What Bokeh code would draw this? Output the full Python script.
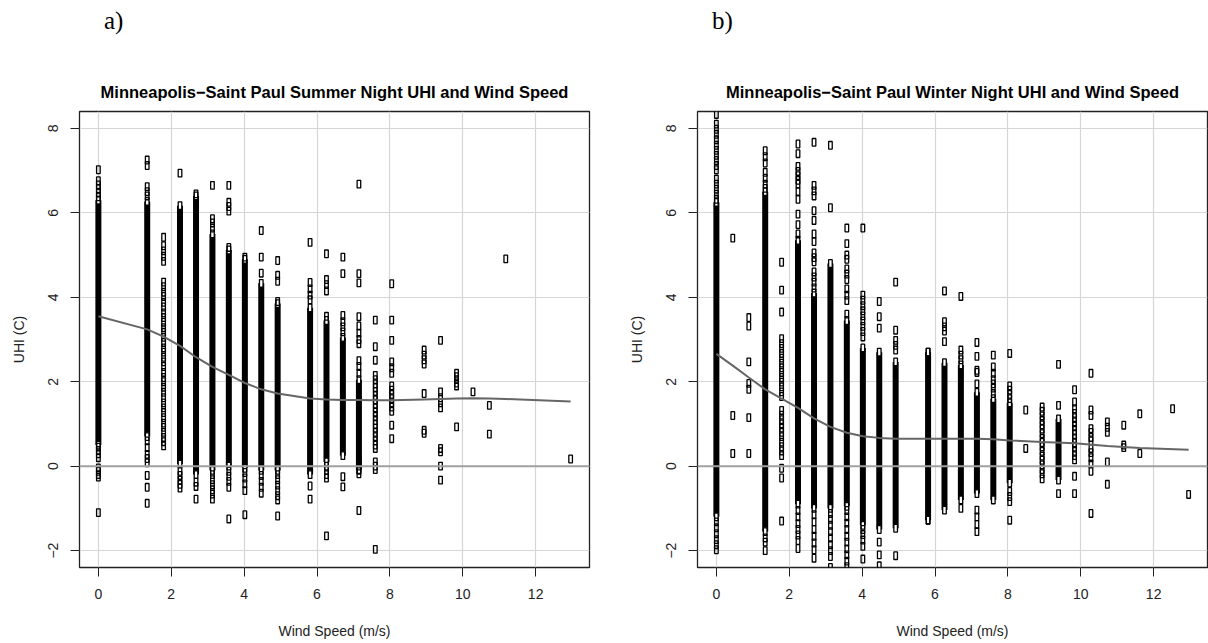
from bokeh.plotting import figure
from bokeh.layouts import row, column
from bokeh.models import Range1d, FixedTicker, Span, Title, Div
from bokeh.embed import file_html
from bokeh.resources import INLINE

# ---------------- data ----------------
x_ticks = [0, 2, 4, 6, 8, 10, 12]
y_ticks = [-2, 0, 2, 4, 6, 8]

summer_wind = [0.00, 1.34, 1.79, 2.24, 2.68, 3.13, 3.58, 4.02, 4.47, 4.92, 5.81, 6.26,
               6.71, 7.15, 7.60, 8.05, 8.94, 9.39, 9.83, 10.28, 10.73, 11.18, 12.96]
summer_uhi = [
    [7.02, 6.76, 6.66, 6.57, 6.47, 6.38, 0.45, 0.37, 0.29, 0.2, -0.04, -0.12, -0.2, -0.26, -1.1],
    [7.25, 7.12, 6.62, 6.5, 6.4, 0.6, 0.44, 0.28, 0.18, 0.08, -0.22, -0.5, -0.88],
    [5.42, 5.22, 5.1, 4.97, 4.85, 4.36, 4.25, 4.12, 4.02, 3.88, 3.77, 3.63, 3.52, 3.41, 3.28,
     3.17, 3.05, 2.93, 2.8, 2.7, 2.58, 2.47, 2.36, 2.22, 2.1, 2.0, 1.87, 1.75, 1.62, 1.5,
     1.38, 1.27, 1.15, 1.02, 0.92, 0.8, 0.68, 0.58, 0.48],
    [6.94, -0.12, -0.22, -0.33, -0.43, -0.52],
    [6.45, -0.38, -0.48, -0.78],
    [6.65, 5.86, 5.76, 5.64, -0.2, -0.32, -0.44, -0.56, -0.66, -0.78],
    [6.65, 6.25, 6.15, 6.04, 5.18, -0.12, -0.24, -0.36, -0.5, -1.25],
    [4.95, -0.15, -0.28, -0.42, -0.58, -1.15],
    [5.58, 4.95, 4.57, -0.22, -0.36, -0.5, -0.64],
    [4.87, 4.52, 4.38, 3.9, -0.2, -0.32, -0.45, -0.58, -0.7, -0.8, -1.18],
    [5.3, 4.35, 4.2, 4.05, 3.94, -0.47, -0.78],
    [5.03, 4.42, 4.3, 4.15, 3.55, 0.0, -0.1, -0.2, -0.28, -1.65],
    [4.95, 4.56, 3.57, 3.42, 3.3, 3.18, -0.25, -0.49],
    [6.68, 4.56, 4.34, 3.54, 3.32, 3.15, 3.0, 2.9, 2.5, 2.36, 2.2, 0.15, 0.05, -0.08, -0.18, -1.05],
    [3.46, 2.83, 2.51, 2.15, 2.05, 1.95, 1.86, 1.77, 1.67, 1.57, 1.47, 1.38, 1.28, 1.18, 1.08,
     0.99, 0.9, 0.8, 0.7, 0.6, 0.5, 0.42, 0.1, 0.0, -0.08, -1.97],
    [4.32, 3.46, 2.98, 2.47, 2.33, 2.2, 1.9, 1.8, 1.7, 1.6, 1.5, 1.4, 1.3, 0.97, 0.65],
    [2.75, 2.63, 2.52, 2.42, 1.72, 0.85, 0.78],
    [2.98, 1.76, 1.62, 1.5, 1.38, 0.42, 0.34, 0.0, -0.33],
    [2.2, 2.12, 2.05, 1.97, 1.9, 0.93],
    [1.76],
    [1.44, 0.76],
    [4.91],
    [0.17],
]
# wind speeds where observations are so dense that they merge into a solid column
summer_dense_wind = [0.00, 1.34, 2.24, 2.68, 3.13, 3.58, 4.02, 4.47, 4.92, 5.81, 6.26, 6.71, 7.15]
summer_dense_low = [0.5, 0.7, 0.05, -0.2, -0.1, 0.0, -0.05, -0.1, -0.1, -0.2, 0.1, 0.25, -0.1]
summer_dense_high = [6.3, 6.27, 6.17, 6.4, 5.5, 5.12, 4.9, 4.33, 3.85, 3.75, 3.45, 3.05, 2.05]

summer_smooth_wind = [0.00, 1.34, 1.79, 2.24, 2.68, 3.13, 3.58, 4.02, 4.47, 4.92, 5.81, 6.26,
                      6.71, 7.15, 7.60, 8.05, 8.94, 9.39, 9.83, 10.28, 10.73, 11.18, 12.96]
summer_smooth_uhi = [3.55, 3.24, 3.07, 2.85, 2.58, 2.35, 2.16, 1.97, 1.82, 1.72, 1.60, 1.58,
                     1.57, 1.57, 1.56, 1.56, 1.58, 1.59, 1.60, 1.61, 1.60, 1.59, 1.53]

winter_wind = [0.00, 0.45, 0.89, 1.34, 1.79, 2.24, 2.68, 3.13, 3.58, 4.02, 4.47, 4.92, 5.81,
               6.26, 6.71, 7.15, 7.60, 8.05, 8.49, 8.94, 9.39, 9.83, 10.28, 10.73, 11.18,
               11.62, 12.52, 12.96]
winter_uhi = [
    [8.33, 8.1, 7.98, 7.86, 7.73, 7.6, 7.48, 7.36, 7.24, 7.12, 7.02, 6.8, 6.68, 6.56, 6.44,
     6.32, -1.32, -1.46, -1.6, -1.74, -1.86, -1.98],
    [5.4, 1.2, 0.3],
    [3.52, 3.32, 2.47, 1.96, 1.82, 1.15, 0.3],
    [7.47, 7.33, 7.18, 6.96, 6.82, 6.68, 6.58, -1.7, -1.8, -2.0],
    [4.83, 4.17, 3.65, 3.02, 2.9, 2.79, 2.67, 2.56, 2.44, 2.33, 2.22, 2.1, 1.99, 1.88, 1.76,
     1.65, 1.32, 1.21, 1.1, 1.0, 0.9, 0.8, 0.7, 0.57, 0.46, 0.36, 0.25, -0.05, -0.28, -1.3],
    [7.63, 7.4, 7.1, 6.98, 6.88, 6.77, 6.68, 6.5, 6.32, 5.97, 5.72, 5.5, -1.05, -1.2, -1.36,
     -1.5, -1.63, -1.76, -1.95],
    [7.67, 6.65, 6.52, 6.4, 6.05, 5.82, 5.5, 5.32, 5.05, 4.94, 4.84, 4.6, 4.48, 4.36, 4.22,
     -1.15, -1.32, -1.5, -1.66, -1.82, -1.98, -2.18],
    [7.6, 6.12, -1.12, -1.26, -1.4, -1.55, -1.7, -1.86, -2.0, -2.14, -2.4],
    [5.64, 5.27, 5.0, 4.9, 4.67, 4.55, 4.42, 4.2, 4.05, 3.92, 3.6, -1.05, -1.2, -1.35, -1.5,
     -1.66, -1.8, -1.96, -2.1, -2.25, -2.38],
    [5.64, 4.05, 3.93, 3.8, 3.68, 3.56, 3.44, 3.31, 3.19, 3.06, -1.5, -1.62, -1.75, -1.9, -2.2],
    [3.9, 3.54, 3.27, -1.8, -2.1, -2.36],
    [4.36, 3.22, 2.98, 2.86, 2.75, -2.12],
    [2.7, -1.28],
    [4.15, 3.42, 3.3, 3.2, 2.95],
    [4.02, 2.75, 2.63, 2.52, 2.15, -1.0],
    [2.93, 2.6, 2.27, 2.22, 1.95, -1.04, -1.2, -1.38, -1.55],
    [2.63, 2.35, 2.2, 2.05, 1.95, 1.85, 1.72],
    [2.67, 1.9, 1.8, 1.7, 1.6, -0.6, -0.72, -0.84, -1.28],
    [1.33, 0.42],
    [1.4, 1.3, 1.19, 1.08, 0.98, 0.88, 0.77, 0.66, 0.56, 0.46, 0.35, 0.24, 0.14, 0.03, -0.08,
     -0.18, -0.3],
    [2.41, 1.44, -0.65],
    [1.81, 1.52, 1.36, 1.25, 1.15, 1.05, 0.95, 0.85, 0.75, 0.65, 0.55, 0.45, 0.35, 0.25,
     0.15, -0.24, -0.65],
    [2.2, 1.33, 1.2, 0.89, 0.8, 0.68, 0.6, 0.42, 0.32, 0.2, 0.05, -0.12, -1.12],
    [1.05, 0.92, 0.8, 0.1, -0.43],
    [0.97, 0.5, 0.44],
    [1.24, 0.3],
    [1.36],
    [-0.67],
]
winter_dense_wind = [0.00, 1.34, 2.24, 2.68, 3.13, 3.58, 4.02, 4.47, 4.92, 5.81, 6.26, 6.71,
                     7.15, 7.60, 8.05, 9.39]
winter_dense_low = [-1.2, -1.55, -0.9, -1.0, -1.0, -0.95, -1.4, -1.5, -1.47, -1.28, -1.04,
                    -0.8, -0.65, -0.8, -0.4, -0.33]
winter_dense_high = [6.25, 6.5, 5.35, 4.1, 4.8, 3.45, 2.8, 2.7, 2.47, 2.7, 2.45, 2.4, 1.75,
                     1.6, 1.5, 1.12]

winter_smooth_wind = [0.00, 0.45, 0.89, 1.34, 1.79, 2.24, 2.68, 3.13, 3.58, 4.02, 4.47, 4.92,
                      5.81, 6.26, 6.71, 7.15, 7.60, 8.05, 8.94, 9.83, 10.73, 11.62, 12.96]
winter_smooth_uhi = [2.66, 2.38, 2.1, 1.82, 1.6, 1.38, 1.13, 0.93, 0.79, 0.71, 0.67, 0.65,
                     0.65, 0.65, 0.65, 0.65, 0.64, 0.61, 0.57, 0.54, 0.48, 0.43, 0.39]

# ---------------- drawing ----------------
FONT = "Liberation Sans"
TAG_H = 45


def make_panel(tag, title, wind, uhi, dw, dlo, dhi, sw, su, left, right, tag_left):
    p = figure(width=604, height=643 - TAG_H, title=None,
               x_range=Range1d(-0.518, 13.478), y_range=Range1d(-2.4, 8.4),
               output_backend="svg", toolbar_location=None,
               min_border_left=left, min_border_right=right,
               min_border_top=111 - TAG_H, min_border_bottom=76,
               background_fill_color="white", border_fill_color="white")

    main = Title(text=title, align="center", text_font=FONT, text_font_style="bold",
                 text_font_size="16.5px", text_color="black", standoff=22)
    p.add_layout(main, "above")

    p.outline_line_color = "#222222"
    p.outline_line_width = 1.3

    for ax in (p.xaxis, p.yaxis):
        ax.axis_line_color = None
        ax.major_tick_out = 9
        ax.major_tick_in = 0
        ax.major_tick_line_color = "#222222"
        ax.major_tick_line_width = 1
        ax.minor_tick_line_color = None
        ax.major_label_text_font = FONT
        ax.major_label_text_font_size = "14px"
        ax.major_label_text_color = "#222222"
        ax.axis_label_text_font = FONT
        ax.axis_label_text_font_size = "14px"
        ax.axis_label_text_font_style = "normal"
        ax.axis_label_text_color = "#222222"
    p.xaxis.ticker = FixedTicker(ticks=x_ticks)
    p.yaxis.ticker = FixedTicker(ticks=y_ticks)
    p.xaxis.axis_label = "Wind Speed (m/s)"
    p.yaxis.axis_label = "UHI (C)"
    p.yaxis.major_label_orientation = "vertical"
    p.xaxis.major_label_standoff = 12
    p.xaxis.axis_label_standoff = 21
    p.yaxis.major_label_standoff = 12
    p.yaxis.axis_label_standoff = 19

    p.xgrid.ticker = FixedTicker(ticks=x_ticks)
    p.ygrid.ticker = FixedTicker(ticks=y_ticks)
    for g in (p.xgrid, p.ygrid):
        g.grid_line_color = "#d6d6d6"
        g.grid_line_width = 1.2

    p.add_layout(Span(location=0, dimension="width", line_color="#a0a0a0", line_width=2))

    # dense columns
    p.segment(x0=dw, y0=dlo, x1=dw, y1=dhi, line_color="black", line_width=6)
    end_x = list(dw) + list(dw)
    end_y = list(dlo) + list(dhi)
    p.rect(x=end_x, y=end_y, width=3.6, height=7.6, width_units="screen",
           height_units="screen", fill_color="white", line_color="black", line_width=1.3)

    xs = [w for w, col in zip(wind, uhi) for _ in col]
    ys = [v for col in uhi for v in col]
    p.rect(x=xs, y=ys, width=3.6, height=7.6, width_units="screen", height_units="screen",
           fill_color=None, line_color="black", line_width=1.3)

    p.line(sw, su, line_color="#666666", line_width=2)

    label = Div(text=tag, width=604, height=TAG_H, margin=0,
                styles={"font-family": "Liberation Serif", "font-size": "25px",
                        "line-height": "29px", "color": "black",
                        "padding-left": f"{tag_left}px", "padding-top": "6px",
                        "box-sizing": "border-box", "background-color": "white"})
    return column(label, p, spacing=0)


pa = make_panel("a)", "Minneapolis\u2212Saint Paul Summer Night UHI and Wind Speed",
                summer_wind, summer_uhi, summer_dense_wind, summer_dense_low, summer_dense_high,
                summer_smooth_wind, summer_smooth_uhi, 79, 15, 104)
pb = make_panel("b)", "Minneapolis\u2212Saint Paul Winter Night UHI and Wind Speed",
                winter_wind, winter_uhi, winter_dense_wind, winter_dense_low, winter_dense_high,
                winter_smooth_wind, winter_smooth_uhi, 93, 1, 108)

layout = row(pa, pb, spacing=0)
open("out.html", "w").write(file_html(layout, INLINE))
